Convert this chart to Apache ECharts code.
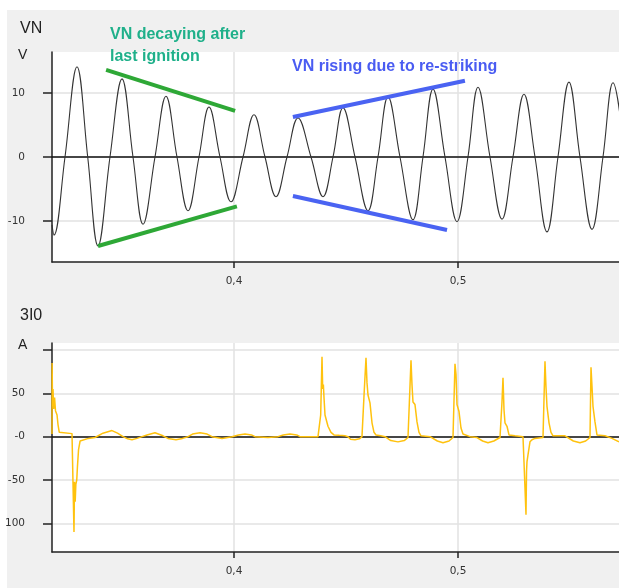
<!DOCTYPE html>
<html lang="en">
<head>
<meta charset="UTF-8">
<title>VN / 3I0</title>
<style>
  html, body { margin: 0; padding: 0; background: #fff; }
  #chart { width: 619px; height: 588px; }
</style>
</head>
<body>
<div id="chart"></div>
<script src="https://cdn.jsdelivr.net/npm/echarts@6/dist/echarts.min.js"></script>
<script>
// VN: extrema and zero crossings (s, V)
var vnTime = [
  0.31875, 0.31964, 0.32455, 0.32991, 0.33469, 0.33929, 0.34464, 0.35000,
  0.35491, 0.35938, 0.36473, 0.36964, 0.37455, 0.37946, 0.38437, 0.38884,
  0.39375, 0.39866, 0.40402, 0.40893, 0.41384, 0.41875, 0.42366, 0.42857,
  0.43438, 0.43973, 0.44420, 0.44866, 0.45402, 0.45982, 0.46429, 0.46875,
  0.47411, 0.47991, 0.48437, 0.48884, 0.49420, 0.49955, 0.50446, 0.50893,
  0.51429, 0.51964, 0.52455, 0.52946, 0.53438, 0.53973, 0.54464, 0.54955,
  0.55446, 0.55982, 0.56473, 0.56920, 0.57455
];
var vnValue = [
  -10.6, -12.2, 0, 14.1, 0, -13.9, 0, 12.2,
  0, -10.5, 0, 9.5, 0, -8.4, 0, 7.8,
  0, -7.0, 0, 6.6, 0, -6.2, 0, 6.1,
  0, -6.2, 0, 7.7, 0, -8.4, 0, 9.4,
  0, -9.8, 0, 10.6, 0, -10.1, 0, 10.9,
  0, -9.7, 0, 9.8, 0, -11.7, 0, 11.7,
  0, -11.3, 0, 11.6, 0
];

// 3I0: current trace (s, A)
var i0Time = [
  0.31875, 0.31880, 0.31900, 0.31920, 0.31950, 0.31990, 0.32030, 0.32100, 0.32143, 0.32200, 0.32232,
  0.32768, 0.32830, 0.32857, 0.32880, 0.32910, 0.32940, 0.32980, 0.33010, 0.33060, 0.33130, 0.33200,
  0.33500, 0.33795, 0.33871, 0.34150, 0.34554, 0.34800, 0.35045, 0.35250, 0.35446, 0.35670, 0.35893,
  0.36116, 0.36473, 0.36830, 0.37050, 0.37411, 0.37700, 0.37946, 0.38150, 0.38482, 0.38800, 0.39018,
  0.39464, 0.39911, 0.40200, 0.40491, 0.40780, 0.40938, 0.41518, 0.41964, 0.42200, 0.42500, 0.42800,
  0.42946, 0.43393, 0.43750,
  0.43839, 0.43870, 0.43929, 0.43960, 0.43990, 0.44018, 0.44063, 0.44196, 0.44330, 0.44464, 0.44700,
  0.44955, 0.45089, 0.45200, 0.45402, 0.45600, 0.45714,
  0.45759, 0.45800, 0.45893, 0.45938, 0.45982, 0.46071, 0.46161, 0.46250, 0.46339, 0.46550, 0.46741,
  0.47000, 0.47321, 0.47600, 0.47768,
  0.47857, 0.47902, 0.47946, 0.47991, 0.48080, 0.48170, 0.48259, 0.48348, 0.48750, 0.48839, 0.49080,
  0.49330, 0.49600, 0.49777,
  0.49821, 0.49866, 0.49911, 0.49955, 0.50045, 0.50134, 0.50223, 0.50536, 0.50848, 0.51100, 0.51339,
  0.51600, 0.51875,
  0.51930, 0.51964, 0.52009, 0.52054, 0.52098, 0.52188, 0.52277, 0.52545, 0.52902,
  0.52946, 0.53036, 0.53060, 0.53080, 0.53125, 0.53214, 0.53304, 0.53438, 0.53795,
  0.53839, 0.53884, 0.53929, 0.53973, 0.54063, 0.54152, 0.54241, 0.54777, 0.54866, 0.55150, 0.55446,
  0.55700, 0.55893,
  0.55938, 0.55982, 0.56027, 0.56116, 0.56205, 0.56563, 0.56875, 0.57188
];
var i0Value = [
  3, 85, 35, 55, 32, 45, 30, 25, 14, 5, 3.5,
  3.5, 3, -110, -52, -75, -55, -50, -35, -15, -5, -3,
  -2, -1, 0, 4, 7, 4, 0, -2.5, -3.5, -2, 0,
  2, 4.5, 1, -2, -3.5, -2, 0, 3, 4.5, 3, 0,
  -2, 0, 2, 3, 2, 0, -1, 0, 2, 3, 2,
  0, 0, 0,
  0, 25, 92, 55, 60, 45, 25, 12, 5, 2, 1.5,
  1, 0, -3, -3.5, -2.5, 0,
  0, 45, 91, 62, 48, 39, 16, 5, 2, 1, 0,
  -4.5, -6, -4.5, -1,
  0, 88, 60, 40, 37, 17, 5, 1, 0, -1, -5,
  -7, -5, -1,
  0, 84, 72, 37, 29, 10, 3, 0, -1, -5, -7,
  -5, -1,
  0, 40, 68, 31, 16, 12, 2, 1, 0,
  -29, -90, -40, -29, -21, -6, -3.5, -2, -1,
  0, 87, 57, 35, 16, 5, 1, 1, 0, -5, -7,
  -5, -1,
  80, 58, 35, 17, 2, 1, -2, -6
];

var xTicks = [0.4, 0.5];
var vnTicks = [-10, 0, 10];
var i0Ticks = [-100, -50, 0, 50, 100];
var i0Labels = [-100, -50, 0, 50];

// envelope annotations [t0, v0, t1, v1]
var decayLines = [[0.3429, 13.6, 0.4005, 7.2], [0.3393, -13.9, 0.4013, -7.7]];
var riseLines = [[0.4263, 6.25, 0.5031, 11.9], [0.4263, -6.1, 0.4951, -11.4]];

var tMin = 0.31875, tMax = 0.57188;
var labelFont = { fontFamily: 'DejaVu Sans', fontSize: 10.5, color: '#333' };

function pairs(xs, ys) {
  return xs.map(function (x, i) { return [x, ys[i]]; });
}

function trend(list, color) {
  return list.map(function (l) {
    return [
      { coord: [l[0], l[1]], lineStyle: { color: color, width: 4, type: 'solid' } },
      { coord: [l[2], l[3]] }
    ];
  });
}

function timeAxis(grid) {
  return {
    type: 'value', gridIndex: grid, min: tMin, max: tMax,
    axisLine: { onZero: false, lineStyle: { color: '#222', width: 1.5 } },
    axisTick: { customValues: xTicks, length: 6, lineStyle: { color: '#222', width: 1.5 } },
    axisLabel: Object.assign({
      customValues: xTicks, margin: 14,
      formatter: function (v) { return v.toFixed(1).replace('.', ','); }
    }, labelFont),
    splitLine: { show: true, lineStyle: { color: '#e2e2e2', width: 1.5 } }
  };
}

function zeroAxis(grid) {
  return {
    type: 'value', gridIndex: grid, min: tMin, max: tMax, position: 'top',
    axisLine: { onZero: true, lineStyle: { color: '#111', width: 1.5 } },
    axisTick: { show: false }, axisLabel: { show: false }, splitLine: { show: false }
  };
}

var chart = echarts.init(document.getElementById('chart'));

chart.setOption({
  animation: false,
  backgroundColor: '#f0f0f0',
  grid: [
    { left: 52, top: 52, right: 0, height: 210, show: true, backgroundColor: '#fff', borderWidth: 0 },
    { left: 52, top: 343, right: 0, height: 209, show: true, backgroundColor: '#fff', borderWidth: 0 }
  ],
  xAxis: [timeAxis(0), zeroAxis(0), timeAxis(1), zeroAxis(1)],
  yAxis: [
    {
      type: 'value', gridIndex: 0, min: -16.4, max: 16.4,
      axisLine: { show: true, onZero: false, lineStyle: { color: '#222', width: 1.5 } },
      axisTick: { show: true, customValues: vnTicks, length: 9, lineStyle: { color: '#222', width: 1.5 } },
      axisLabel: Object.assign({ customValues: vnTicks, margin: 27 }, labelFont),
      splitLine: { show: true, lineStyle: { color: '#e2e2e2', width: 1.5 } }
    },
    {
      type: 'value', gridIndex: 1, min: -133, max: 108,
      axisLine: { show: true, onZero: false, lineStyle: { color: '#222', width: 1.5 } },
      axisTick: { show: true, customValues: i0Ticks, length: 9, lineStyle: { color: '#222', width: 1.5 } },
      axisLabel: Object.assign({
        customValues: i0Labels, margin: 27,
        formatter: function (v) { return v === 0 ? '-0' : (v === -100 ? '100' : String(v)); }
      }, labelFont),
      splitLine: { show: true, lineStyle: { color: '#e2e2e2', width: 1.5 } }
    }
  ],
  series: [
    {
      name: 'VN', type: 'line', xAxisIndex: 0, yAxisIndex: 0,
      data: pairs(vnTime, vnValue),
      showSymbol: false, smooth: 0.4,
      lineStyle: { color: '#333', width: 1.1 },
      markLine: {
        silent: true, symbol: ['none', 'none'], label: { show: false },
        data: trend(decayLines, '#2ea836').concat(trend(riseLines, '#4a63f2'))
      }
    },
    {
      name: '3I0', type: 'line', xAxisIndex: 2, yAxisIndex: 1,
      data: pairs(i0Time, i0Value),
      showSymbol: false,
      lineStyle: { color: '#ffc20e', width: 1.5 }
    }
  ],
  graphic: [
    { type: 'rect', shape: { x: 0, y: 0, width: 619, height: 10 }, style: { fill: '#fff' } },
    { type: 'rect', shape: { x: 0, y: 0, width: 7, height: 588 }, style: { fill: '#fff' } },
    { type: 'text', x: 20, y: 29, style: { text: 'VN', font: '16px "Liberation Sans", Arial', fill: '#222', verticalAlign: 'middle' } },
    { type: 'text', x: 18, y: 55, style: { text: 'V', font: '14px "Liberation Sans", Arial', fill: '#222', verticalAlign: 'middle' } },
    { type: 'text', x: 20, y: 316, style: { text: '3I0', font: '16px "Liberation Sans", Arial', fill: '#222', verticalAlign: 'middle' } },
    { type: 'text', x: 18, y: 345, style: { text: 'A', font: '14px "Liberation Sans", Arial', fill: '#222', verticalAlign: 'middle' } },
    { type: 'text', x: 110, y: 35, style: { text: 'VN decaying after', font: 'bold 16px "Liberation Sans", Arial', fill: '#1fb08a', verticalAlign: 'middle' } },
    { type: 'text', x: 110, y: 57, style: { text: 'last ignition', font: 'bold 16px "Liberation Sans", Arial', fill: '#1fb08a', verticalAlign: 'middle' } },
    { type: 'text', x: 292, y: 67, style: { text: 'VN rising due to re-striking', font: 'bold 16px "Liberation Sans", Arial', fill: '#4a5cf2', verticalAlign: 'middle' } }
  ]
});
</script>
</body>
</html>
